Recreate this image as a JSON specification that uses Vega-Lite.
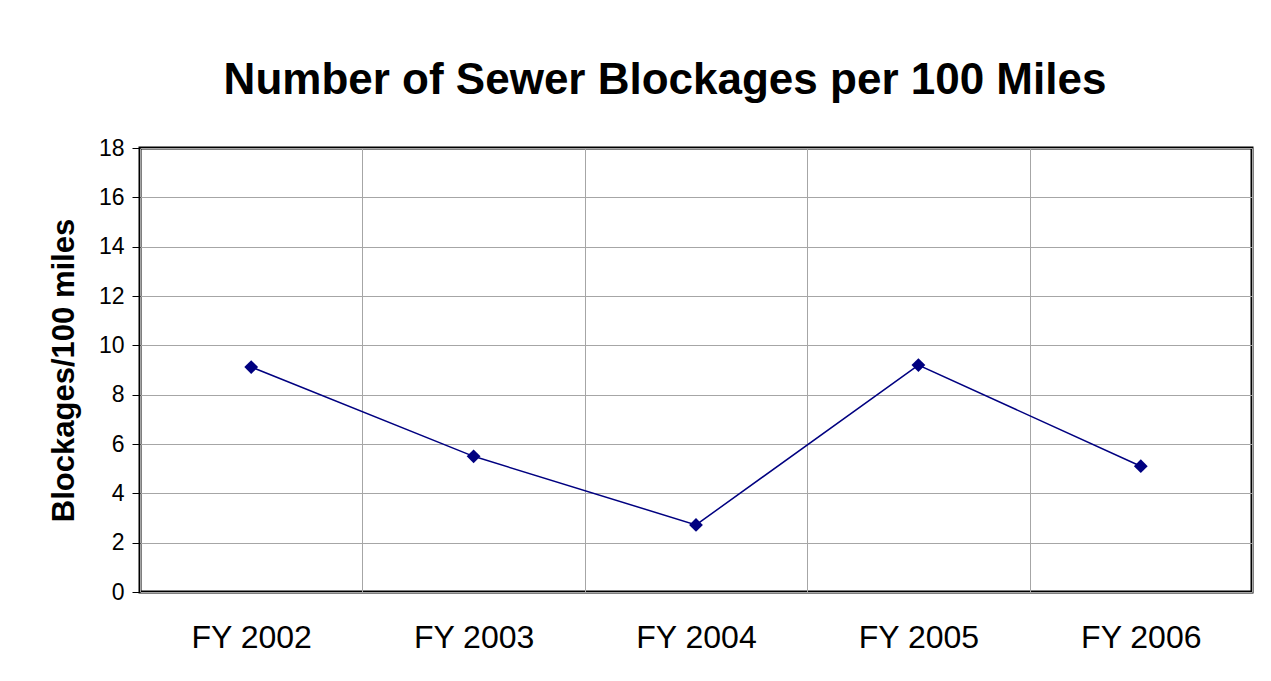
{
  "$schema": "https://vega.github.io/schema/vega-lite/v6.json",
  "width": 1112,
  "height": 444,
  "autosize": {"type": "none"},
  "padding": {"left": 140, "top": 148, "right": 19, "bottom": 89},
  "background": "white",
  "title": {
    "text": "Number of Sewer Blockages per 100 Miles",
    "font": "Liberation Sans",
    "fontSize": 44,
    "fontWeight": "bold",
    "color": "black",
    "anchor": "middle",
    "dx": -31,
    "offset": 34
  },
  "config": {
    "view": {"stroke": "black", "strokeWidth": 3},
    "font": "Liberation Sans"
  },
  "data": {
    "values": [
      {"year": "FY 2002", "value": 9.12},
      {"year": "FY 2003", "value": 5.5},
      {"year": "FY 2004", "value": 2.72},
      {"year": "FY 2005", "value": 9.2},
      {"year": "FY 2006", "value": 5.1}
    ]
  },
  "encoding": {
    "x": {
      "field": "year",
      "type": "ordinal",
      "scale": {"paddingInner": 0, "paddingOuter": 0},
      "axis": {
        "title": null,
        "labelAngle": 0,
        "labelFontSize": 32,
        "labelColor": "black",
        "labelPadding": 30,
        "ticks": false,
        "domain": false,
        "grid": true,
        "tickBand": "extent",
        "gridColor": "#a6a6a6",
        "gridWidth": 1
      }
    },
    "y": {
      "field": "value",
      "type": "quantitative",
      "scale": {"domain": [0, 18], "nice": false},
      "axis": {
        "title": "Blockages/100 miles",
        "titleFontSize": 31,
        "titleFontWeight": "bold",
        "titleColor": "black",
        "titlePadding": 18,
        "values": [0, 2, 4, 6, 8, 10, 12, 14, 16, 18],
        "labelFontSize": 23,
        "labelColor": "black",
        "labelPadding": 8,
        "tickSize": 8,
        "tickColor": "black",
        "domain": false,
        "gridColor": "#a6a6a6",
        "gridWidth": 1
      }
    }
  },
  "layer": [
    {"mark": {"type": "line", "color": "#000080", "strokeWidth": 1.5}},
    {"mark": {"type": "point", "shape": "diamond", "filled": true, "color": "#000080", "size": 190, "opacity": 1}}
  ]
}
